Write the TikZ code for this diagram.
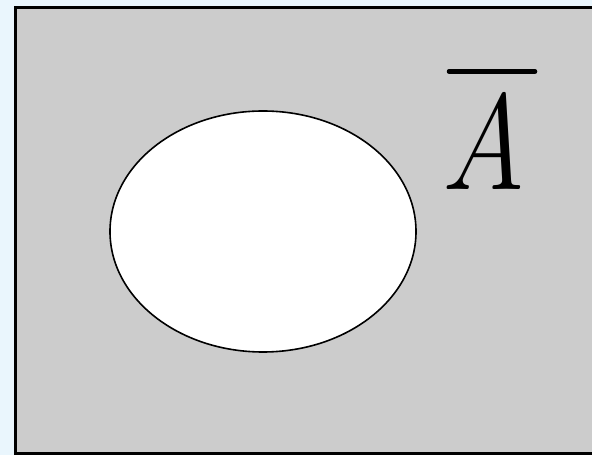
\documentclass[tikz,border=0pt]{standalone}
\usepackage{fontspec}
\definecolor{bgblue}{HTML}{EAF6FD}
\definecolor{venngray}{HTML}{CCCCCC}
\tikzset{
  universe/.style={fill=venngray, draw=black, line width=3pt},
  setA/.style={fill=white, draw=black, line width=1.6pt},
  labelA/.style={inner sep=0pt, anchor=base, xscale=0.87, font=\fontsize{136}{136}\selectfont\itshape},
  barline/.style={line width=4.5pt, line cap=round}
}
\begin{document}
\begin{tikzpicture}[x=1pt,y=1pt]
\useasboundingbox (0,0) rectangle (592,455);
\fill[bgblue] (0,0) rectangle (592,455);
\begin{scope}
\clip (0,0) rectangle (592,455);
\draw[universe] (15,1) rectangle (610,447.5);
\end{scope}
\draw[setA] (263,223.5) ellipse [x radius=153, y radius=120.5];
\node[labelA] (A) at (483.5,265) {A};
\coordinate (b1) at (449,383.5);
\coordinate (b2) at (535,383.5);
\draw[barline] (b1) -- (b2);
\end{tikzpicture}
\end{document}
